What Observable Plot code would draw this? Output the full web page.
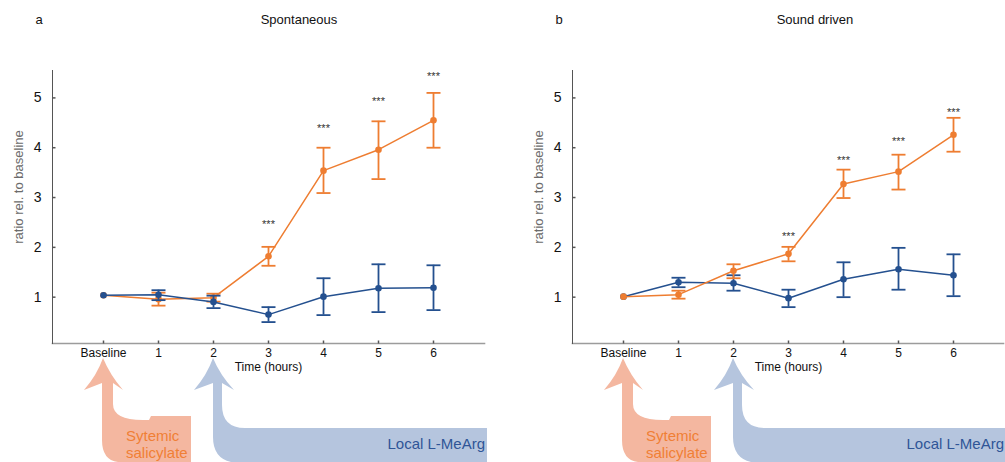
<!DOCTYPE html>
<html><head><meta charset="utf-8">
<script src="https://cdn.jsdelivr.net/npm/d3@7"></script>
<script src="https://cdn.jsdelivr.net/npm/@observablehq/plot@0.6"></script>
<style>
body{margin:0;background:#fff;font-family:Arial,"Liberation Sans",sans-serif;}
#wrap{position:relative;width:1005px;height:462px;overflow:hidden;background:#fff;}
.panel{position:absolute;top:0;}
.lbl{position:absolute;font-size:13px;color:#111;transform:translate(-50%,-50%);white-space:nowrap;}
</style></head><body><div id="wrap"></div>
<script>
// ---------- data ----------
const timeLabels = ["Baseline","1","2","3","4","5","6"];
const yTicks = [1,2,3,4,5];
const yDomain = [0.07, 5.55];
const panelTitles = ["Spontaneous","Sound driven"];
const panelLetters = ["a","b"];
const xLabel = "Time (hours)";
const yLabel = "ratio rel. to baseline";
const starText = "***";

// Spontaneous (panel a)
const spontSalMean = [1.04,0.96,0.99,1.82,3.54,3.96,4.55];
const spontSalLo   = [null,0.83,0.91,1.63,3.09,3.37,4.00];
const spontSalHi   = [null,1.09,1.07,2.01,4.00,4.53,5.10];
const spontArgMean = [1.04,1.05,0.905,0.65,1.01,1.18,1.19];
const spontArgLo   = [null,0.94,0.78,0.50,0.64,0.70,0.74];
const spontArgHi   = [null,1.14,1.03,0.80,1.38,1.66,1.64];
const spontStarTimes = ["3","4","5","6"];
const spontStarY     = [2.52,4.45,4.98,5.50];

// Sound driven (panel b)
const soundSalMean = [1.01,1.05,1.53,1.87,3.27,3.52,4.26];
const soundSalLo   = [null,0.97,1.38,1.72,2.99,3.16,3.92];
const soundSalHi   = [null,1.13,1.66,2.01,3.56,3.86,4.60];
const soundArgMean = [1.01,1.30,1.28,0.98,1.36,1.56,1.44];
const soundArgLo   = [null,1.20,1.13,0.80,1.00,1.15,1.02];
const soundArgHi   = [null,1.39,1.44,1.15,1.70,1.99,1.86];
const soundStarTimes = ["3","4","5","6"];
const soundStarY     = [2.28,3.80,4.18,4.76];

// treatment annotations
const salAnchor = "Baseline";
const salLines = ["Sytemic","salicylate"];
const argAnchor = "2";
const argText = "Local L-MeArg";

// ---------- styles ----------
const ORANGE = "#ee7d31", BLUE = "#24508f";
const ORANGE_ARROW = "#f4b7a0", BLUE_ARROW = "#b5c5de";
const ORANGE_TEXT = "#f07f35", BLUE_TEXT = "#2f5597";
const FONT = "Arial, 'Liberation Sans', sans-serif";

function rows(mean, lo, hi){ return timeLabels.map((t,i)=>({t, mean:mean[i], lo:lo[i], hi:hi[i]})); }
function stars(times, ys){ return times.map((t,i)=>({t, y:ys[i]})); }

const vTick = {draw(ctx){ ctx.moveTo(0,0); ctx.lineTo(0,-3); }};
const hTick = {draw(ctx){ ctx.moveTo(0,0); ctx.lineTo(3,0); }};
const capSym = {draw(ctx){ ctx.moveTo(-7,0); ctx.lineTo(7,0); }};

function seriesMarks(data, color){
  const eb = data.filter(d=>d.lo!=null);
  return [
    Plot.ruleX(eb, {x:"t", y1:"lo", y2:"hi", stroke:color, strokeWidth:1.8}),
    Plot.dot(eb, {x:"t", y:"lo", symbol:capSym, stroke:color, strokeWidth:1.8, fill:"none"}),
    Plot.dot(eb, {x:"t", y:"hi", symbol:capSym, stroke:color, strokeWidth:1.8, fill:"none"}),
    Plot.line(data, {x:"t", y:"mean", stroke:color, strokeWidth:1.5}),
    Plot.dot(data, {x:"t", y:"mean", fill:color, r:3.3})
  ];
}

const MT = 70, MB = 119, H = 462;

function makePanel(cfg){
  const seriesOrder = cfg.series.map(s=>seriesMarks(s.data, s.color)).flat();
  const svg = Plot.plot({
    width: cfg.width, height: H,
    marginLeft: cfg.ml, marginRight: cfg.mr, marginTop: MT, marginBottom: MB,
    style: {fontFamily: FONT, background: "transparent", overflow: "visible"},
    x: {type:"point", domain: timeLabels, padding: cfg.padding, align: 0.5},
    y: {domain: yDomain},
    marks: [
      Plot.frame({anchor:"bottom", stroke:"#9c9c9c", strokeWidth:1.6}),
      Plot.frame({anchor:"left", stroke:"#555", strokeWidth:1}),
      Plot.dot(timeLabels, {x:d=>d, frameAnchor:"bottom", symbol:vTick, stroke:"#555", fill:"none"}),
      Plot.dot(yTicks, {y:d=>d, frameAnchor:"left", symbol:hTick, stroke:"#555", fill:"none"}),
      Plot.axisX({tickSize:0, tickPadding:5, fontSize:12, label:null, fill:"#111"}),
      Plot.axisY({ticks:yTicks, tickFormat:d=>String(d), tickSize:0, tickPadding:11, fontSize:14, label:null, fill:"#111"}),
      Plot.text([yLabel], {frameAnchor:"left", textAnchor:"middle", dx:-34, dy:-20, rotate:-90, fill:"#6b6b6b", fontSize:13}),
      Plot.text([xLabel], {x:["3"], text:d=>d, frameAnchor:"bottom", dy:27, fontSize:12, fill:"#111"}),
      ...seriesOrder,
      Plot.text(cfg.stars, {x:"t", y:"y", text:()=>starText, fontSize:11, fill:"#333", dy:3})
    ]
  });
  // treatment arrows (anchored on x scale positions)
  const sx = svg.scale("x");
  const frameRight = cfg.width - cfg.mr;
  const g = d3.select(svg).insert("g", ":first-child").attr("text-anchor", "start");
  const ty = 358;
  const ox = sx.apply(salAnchor);
  g.append("path").attr("fill", ORANGE_ARROW).attr("d",
    `M${ox},${ty} Q${ox+7},${ty+17} ${ox+20},${ty+32} L${ox+10},${ty+25} L${ox+10},404 Q${ox+10},420 ${ox+40},420 L${ox+46},420 L${ox+48},416 L${ox+88},416 L${ox+88},462 L${ox+15},462 Q${ox-1},460 ${ox-1},440 L${ox-1},${ty+25} L${ox-19},${ty+32} Q${ox-6},${ty+17} ${ox},${ty} Z`);
  const bx = sx.apply(argAnchor);
  const R = frameRight + 3;
  g.append("path").attr("fill", BLUE_ARROW).attr("d",
    `M${bx},${ty} Q${bx+7},${ty+17} ${bx+21},${ty+32} L${bx+9},${ty+25} L${bx+9},405 Q${bx+9},428 ${bx+32},428 L${R},428 L${R},462 L${bx+18},462 Q${bx},458 ${bx},437 L${bx},${ty+25} L${bx-19},${ty+32} Q${bx-6},${ty+17} ${bx},${ty} Z`);
  salLines.forEach((s,i)=>{
    g.append("text").attr("x", ox+23).attr("y", 441 + i*16.5).attr("fill", ORANGE_TEXT)
      .attr("text-anchor", "start").attr("font-size", 15).text(s);
  });
  g.append("text").attr("x", frameRight+1).attr("y", 449).attr("text-anchor","end")
    .attr("fill", BLUE_TEXT).attr("font-size", 15).text(argText);
  return svg;
}

const wrap = document.getElementById("wrap");
const panels = [
  {left:0, width:500, ml:52, mr:16, padding:0.89,
   series:[{data:rows(spontSalMean,spontSalLo,spontSalHi), color:ORANGE},
           {data:rows(spontArgMean,spontArgLo,spontArgHi), color:BLUE}],
   stars: stars(spontStarTimes, spontStarY), title:[39,299]},
  {left:500, width:505, ml:72, mr:2, padding:0.87,
   series:[{data:rows(soundArgMean,soundArgLo,soundArgHi), color:BLUE},
           {data:rows(soundSalMean,soundSalLo,soundSalHi), color:ORANGE}],
   stars: stars(soundStarTimes, soundStarY), title:[559,815]}
];
panels.forEach((p,i)=>{
  const div = document.createElement("div");
  div.className = "panel"; div.style.left = p.left+"px"; div.style.width = p.width+"px";
  div.appendChild(makePanel(p));
  wrap.appendChild(div);
  const a = document.createElement("div"); a.className="lbl"; a.textContent = panelLetters[i];
  a.style.left = p.title[0]+"px"; a.style.top = "19px"; wrap.appendChild(a);
  const t = document.createElement("div"); t.className="lbl"; t.textContent = panelTitles[i];
  t.style.left = p.title[1]+"px"; t.style.top = "19px"; wrap.appendChild(t);
});
</script></body></html>
